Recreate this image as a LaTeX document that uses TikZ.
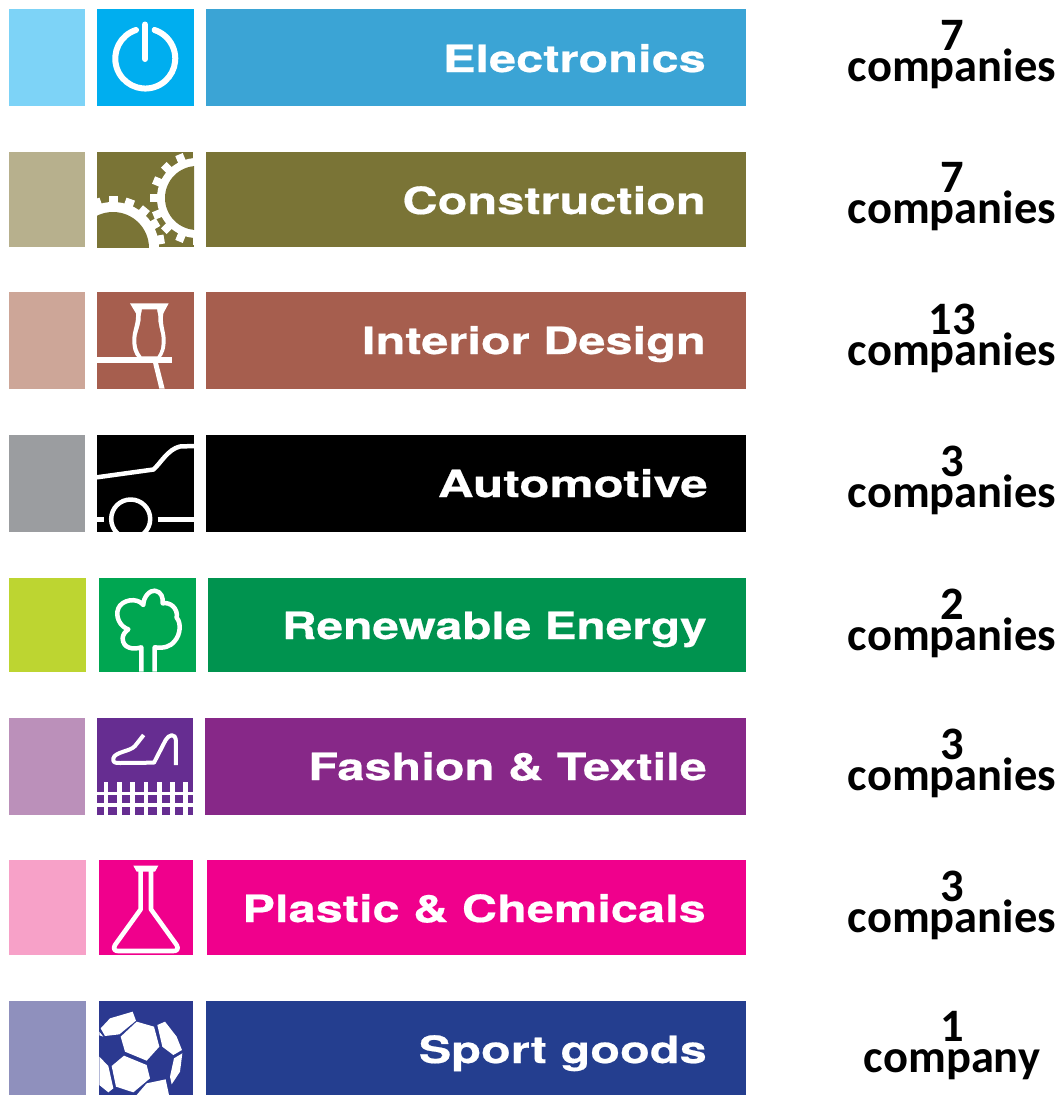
\documentclass[tikz,border=0pt]{standalone}
\usepackage{fontspec}
\newfontfamily\barfont[BoldFeatures={FakeStretch=1.3,FakeBold=0.5}]{TeX Gyre Heros}
\newfontfamily\cntfont{Carlito}
\setlength{\lineskiplimit}{-100pt}
\definecolor{eA}{HTML}{7DD3F7}\definecolor{eB}{HTML}{00AEEF}\definecolor{eC}{HTML}{3BA4D5}
\definecolor{cA}{HTML}{B7B08D}\definecolor{cB}{HTML}{7A7436}
\definecolor{iA}{HTML}{CDA698}\definecolor{iB}{HTML}{A65E4E}
\definecolor{aA}{HTML}{9B9DA0}
\definecolor{rA}{HTML}{BDD531}\definecolor{rB}{HTML}{00A651}\definecolor{rC}{HTML}{00934F}
\definecolor{fA}{HTML}{BB90BA}\definecolor{fB}{HTML}{662D91}\definecolor{fC}{HTML}{872888}
\definecolor{pA}{HTML}{F7A1C8}\definecolor{pB}{HTML}{F0008C}
\definecolor{sA}{HTML}{8F90BD}\definecolor{sB}{HTML}{2B3990}\definecolor{sC}{HTML}{243E8F}
\tikzset{
  barlabel/.style={anchor=base east,text=white,inner sep=0pt,font=\barfont\bfseries\fontsize{37.5}{37.5}\selectfont},
  cntlabel/.style={anchor=center,inner sep=0pt,align=center,font=\cntfont\bfseries\fontsize{46.5}{31}\selectfont},
  ico/.style={draw=white,line width=#1,line join=round},
}
\newcommand{\rowshapes}[9]{%
 \fill[#7] (9,#1) rectangle (#3,#2);
 \fill[#8] (#4,#1) rectangle (#5,#2);
 \fill[#9] (#6,#1) rectangle (746,#2);
}
\begin{document}
\begin{tikzpicture}[x=1pt,y=-1pt]
\useasboundingbox (0,0) rectangle (1064,1095);
\rowshapes{9}{106}{85}{97}{194}{206}{eA}{eB}{eC}
\rowshapes{152}{247}{85}{97}{194}{206}{cA}{cB}{cB}
\rowshapes{292}{389}{85}{97}{194}{206}{iA}{iB}{iB}
\rowshapes{435}{532}{85}{97}{194}{206}{aA}{black}{black}
\rowshapes{578}{672}{86}{99}{196}{208}{rA}{rB}{rC}
\rowshapes{718}{815}{85}{97}{193}{205}{fA}{fB}{fC}
\rowshapes{860}{955}{86}{99}{193}{207}{pA}{pB}{pB}
\rowshapes{1001}{1095}{86}{99}{193}{206}{sA}{sB}{sC}
% power
\draw[ico=6pt,line cap=round] (136,30) arc[start angle=252,delta angle=-324,radius=30];
\draw[ico=6pt,line cap=round] (145,24.5) -- (145,59);
% gears
\begin{scope}
\clip (97,152) rectangle (194,247);
\fill[white] (113,248) circle[radius=46];
\fill[white] (197,198) circle[radius=40];
\foreach \a in {0,20,...,340}{\fill[white,shift={(113,248)},rotate=\a] (-4.5,-52) rectangle (4.5,-40);}
\foreach \a in {0,22.5,...,337.5}{\fill[white,shift={(197,198)},rotate=\a] (-4,-47) rectangle (4,-35);}
\fill[cB] (113,248) circle[radius=36];
\fill[cB] (197,198) circle[radius=32];
\end{scope}
% vase
\begin{scope}
\clip (97,292) rectangle (194,389);
\begin{scope}[shift={(0,280)},scale=1/3]
\fill[white] (290,232) rectangle (515,248);
\fill[white] (459,248) -- (474,248) -- (494,326) -- (478,326) -- cycle;
\fill[white] (390,70) -- (506,70) -- (490,100) .. controls (485,130) and (495,150) .. (497,175) .. controls (498,205) and (490,225) .. (480,235) -- (415,235) .. controls (403,225) and (396,205) .. (397,175) .. controls (398,150) and (410,130) .. (408,100) -- cycle;
\fill[iB] (426,88) -- (471,88) -- (475,110) .. controls (473,130) and (483,155) .. (485,175) .. controls (486,200) and (482,215) .. (472,229) -- (425,229) .. controls (414,215) and (408,200) .. (409,175) .. controls (411,155) and (424,130) .. (422,110) -- cycle;
\end{scope}
\end{scope}
% car
\begin{scope}
\clip (97,435) rectangle (194,532);
\draw[ico=4.5pt] (97,477.3) -- (153.5,469.5) .. controls (160,464) and (168,449) .. (180,446.5) -- (194,446);
\draw[ico=4.5pt] (130.7,519) circle[radius=19.5];
\draw[ico=5pt] (97,519) -- (104,519);
\draw[ico=5pt] (157.5,519) -- (194,519);
\end{scope}
% tree
\begin{scope}
\clip (99,578) rectangle (196,672);
\begin{scope}[shift={(0,570)},scale=1/3]
\draw[ico=4.5pt] (424,305) -- (424,232) .. controls (400,240) and (368,235) .. (368,205) .. controls (368,195) and (375,185) .. (385,178)
 .. controls (360,170) and (345,140) .. (355,115) .. controls (365,90) and (410,80) .. (430,105)
 .. controls (430,80) and (450,60) .. (465,62) .. controls (485,65) and (490,85) .. (488,100)
 .. controls (510,95) and (535,115) .. (530,143) .. controls (545,160) and (540,195) .. (525,212) .. controls (510,232) and (490,235) .. (464,232) -- (464,305);
\end{scope}
\end{scope}
% shoe & fence
\begin{scope}
\clip (97,718) rectangle (193,815);
\begin{scope}[shift={(0,570)},scale=1/3]
\draw[ico=4pt] (431,495) -- (405,528) .. controls (390,545) and (345,545) .. (340,565) .. controls (338,578) and (345,579) .. (360,579) -- (462,578) -- (497,510) .. controls (505,495) and (527,485) .. (528,515) -- (528,585);
\foreach \x in {318,358,398,438,478,517,557}{\fill[white] (\x-7,635) rectangle (\x+7,735);}
\fill[white] (290,665) rectangle (580,675);
\fill[white] (290,698) rectangle (580,712);
\end{scope}
\end{scope}
% flask
\begin{scope}
\clip (99,860) rectangle (193,955);
\begin{scope}[shift={(0,850)},scale=1/3]
\fill[white] (400,47) -- (475,47) -- (465,65) -- (410,65) -- cycle;
\draw[ico=4.6pt] (422,55) -- (422,178) -- (345,285) .. controls (338,298) and (345,303) .. (355,303) -- (520,303) .. controls (530,303) and (537,298) .. (530,285) -- (453,178) -- (453,55);
\end{scope}
\end{scope}
% ball
\begin{scope}
\clip (99,1001) rectangle (193,1095);
\begin{scope}[shift={(0,850)},scale=1/3]
\fill[white] (302,535) -- (330,505) -- (398,485) -- (408,512) -- (358,553) -- (315,558) -- cycle;
\fill[white] (362,560) -- (410,515) -- (462,530) -- (478,590) -- (440,632) -- (375,605) -- cycle;
\fill[white] (472,525) -- (495,515) -- (530,560) -- (546,600) -- (520,615) -- (487,590) -- cycle;
\fill[white] (547,610) -- (540,665) -- (515,703) -- (510,680) -- (522,625) -- cycle;
\fill[white] (335,648) -- (372,617) -- (440,645) -- (450,685) -- (400,727) -- (348,710) -- cycle;
\fill[white] (298,620) -- (325,648) -- (340,715) -- (325,727) -- (298,705) -- cycle;
\fill[white] (410,735) -- (440,700) -- (497,688) -- (507,735) -- cycle;
\fill[white] (298,545) -- (310,560) -- (298,556) -- cycle;
\end{scope}
\end{scope}
% bar labels
\node[barlabel] (l1) at (706,72) {Electronics};
\node[barlabel] (l2) at (706,214) {Construction};
\node[barlabel] (l3) at (706,354) {Interior Design};
\node[barlabel,xscale=1.015] (l4) at (708,497) {Automotive};
\node[barlabel,xscale=0.981] (l5) at (707,639) {Renewable Energy};
\node[barlabel] (l6) at (707,780) {Fashion \& Textile};
\node[barlabel] (l7) at (706,922) {Plastic \& Chemicals};
\node[barlabel] (l8) at (707,1063) {Sport goods};
% counts
\node[cntlabel] (c1) at (952,55) {7\\companies};
\node[cntlabel] (c2) at (952,197) {7\\companies};
\node[cntlabel] (c3) at (952,338) {13\\companies};
\node[cntlabel] (c4) at (952,480) {3\\companies};
\node[cntlabel] (c5) at (952,623) {2\\companies};
\node[cntlabel] (c6) at (952,763) {3\\companies};
\node[cntlabel] (c7) at (952,905) {3\\companies};
\node[cntlabel] (c8) at (952,1046) {1\\company};
\end{tikzpicture}
\end{document}
